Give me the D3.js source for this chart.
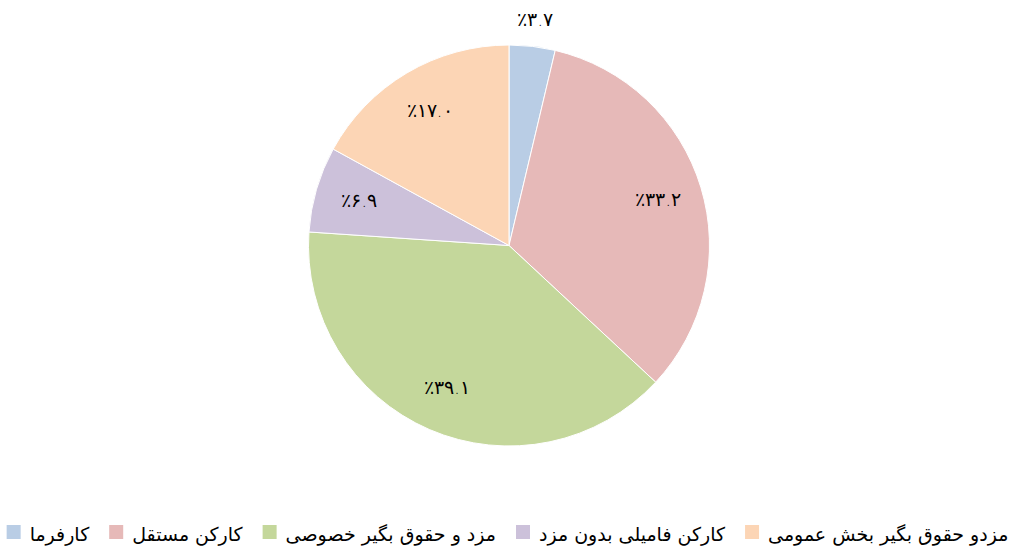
<!DOCTYPE html>
<head>
  <meta charset="utf-8">
  <title>Pie</title>
  <script src="https://cdnjs.cloudflare.com/ajax/libs/d3/7.8.5/d3.min.js"></script>
  <style>
    body { margin: 0; background: #fff; }
    svg text { font-family: "DejaVu Sans", sans-serif; fill: #000; }
  </style>
</head>
<body>
<svg width="1021" height="552"></svg>
<script>

// categories (clockwise from 12 o'clock) and their shares in percent
var categories = ["کارفرما", "کارکن مستقل", "مزد و حقوق بگیر خصوصی", "کارکن فامیلی بدون مزد", "مزدو حقوق بگیر بخش عمومی"];
var values = [3.7, 33.2, 39.1, 6.9, 17.0];
var colors = ["#b9cde5", "#e6b9b8", "#c4d79b", "#ccc1da", "#fcd5b5"];

var svg = d3.select("svg"),
    width = 1021,
    cx = 509, cy = 245.5, radius = 200.5;

// Persian digits for the labels
var faDigits = "۰۱۲۳۴۵۶۷۸۹";
function toFa(v) {
  return "٪" + v.toFixed(1).replace(/[0-9]/g, function(c) { return faDigits[+c]; });
}

var pie = d3.pie().sort(null).value(function(d) { return d; });
var arc = d3.arc().innerRadius(0).outerRadius(radius);
var arcs = pie(values);

var g = svg.append("g").attr("transform", "translate(" + cx + "," + cy + ")");

g.selectAll("path")
  .data(arcs)
  .enter().append("path")
    .attr("d", arc)
    .attr("fill", function(d, i) { return colors[i]; })
    .attr("stroke", "#fff")
    .attr("stroke-width", 1);

// small slices get their label outside the pie
var inArc = d3.arc().innerRadius(156).outerRadius(156);
var outArc = d3.arc().innerRadius(227).outerRadius(227);

g.selectAll("text.lbl")
  .data(arcs)
  .enter().append("text")
    .attr("class", "lbl")
    .attr("transform", function(d) {
      var p = (d.value < 5 ? outArc : inArc).centroid(d);
      return "translate(" + p[0] + "," + p[1] + ")";
    })
    .attr("text-anchor", "middle")
    .attr("dy", "0.3em")
    .attr("direction", "ltr")
    .style("font-size", "19px")
    .style("font-weight", "300")
    .text(function(d) { return toFa(d.value); });

// legend: square then text, laid out left to right and centred
var legend = svg.append("g");
var items = legend.selectAll("g")
  .data(categories)
  .enter().append("g");

items.append("rect")
  .attr("width", 14).attr("height", 14)
  .attr("y", 525)
  .attr("fill", function(d, i) { return colors[i]; });

items.append("text")
  .attr("x", 23)
  .attr("y", 534)
  .attr("dy", "0.35em")
  .style("font-size", "19px")
  .text(function(d) { return d; });

var x = 0;
items.each(function() {
  var w = this.querySelector("text").getComputedTextLength();
  d3.select(this).attr("transform", "translate(" + x + ",0)");
  x += 23 + w + 20;
});
var total = x - 20;
legend.attr("transform", "translate(" + ((width - total) / 2 - 3) + ",0)");

</script>
</body>
</html>
